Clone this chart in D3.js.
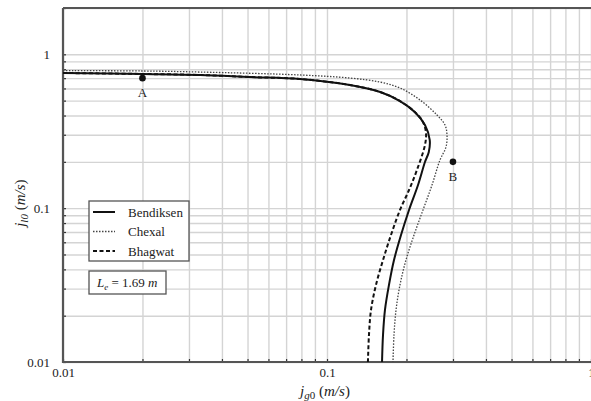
<!DOCTYPE html>
<html>
<head>
<meta charset="utf-8">
<script src="https://cdn.jsdelivr.net/npm/d3@7"></script>
<style>
  body { margin: 0; background: #fff; }
  text { font-family: "Liberation Serif", "Times New Roman", serif; fill: #222; }
</style>
</head>
<body>
<div class="chart"></div>
<script>
// flooding curves, log-log
const seriesNames = ["Bendiksen", "Chexal", "Bhagwat"];
const bendiksenJg = [0.01, 0.0201, 0.033, 0.051, 0.079, 0.122, 0.159, 0.189, 0.215, 0.235, 0.245, 0.243, 0.235, 0.2212, 0.2045, 0.1907, 0.1794, 0.1717, 0.1658, 0.163, 0.1616];
const bendiksenJl = [0.756, 0.745, 0.734, 0.712, 0.691, 0.632, 0.569, 0.497, 0.422, 0.347, 0.277, 0.232, 0.1995, 0.1414, 0.0973, 0.0669, 0.046, 0.0317, 0.0218, 0.015, 0.01];
const chexalJg = [0.01, 0.0201, 0.033, 0.079, 0.122, 0.159, 0.189, 0.2251, 0.261, 0.2799, 0.2848, 0.2823, 0.2679, 0.2499, 0.231, 0.2136, 0.1991, 0.189, 0.1826, 0.1794, 0.1778];
const chexalJl = [0.784, 0.779, 0.767, 0.734, 0.701, 0.66, 0.604, 0.505, 0.403, 0.347, 0.299, 0.2497, 0.2056, 0.1414, 0.0973, 0.0669, 0.046, 0.0317, 0.0218, 0.015, 0.01];
const bhagwatJg = [0.01, 0.0201, 0.033, 0.051, 0.079, 0.122, 0.159, 0.189, 0.215, 0.231, 0.2371, 0.235, 0.2191, 0.2045, 0.189, 0.1747, 0.163, 0.1533, 0.1468, 0.1442, 0.1429];
const bhagwatJl = [0.756, 0.745, 0.734, 0.712, 0.691, 0.632, 0.569, 0.497, 0.422, 0.363, 0.308, 0.2573, 0.177, 0.1312, 0.0973, 0.0669, 0.046, 0.0317, 0.0218, 0.015, 0.01];
const pointNames = ["A", "B"];
const pointJg = [0.02, 0.3];
const pointJl = [0.7, 0.2];
const xTickLabels = [0.01, 0.1, 1];
const yTickLabels = [0.01, 0.1, 1];

const W = 591, H = 401;
const plotL = 63, plotR = 591, plotT = 8, plotB = 362;

const svg = d3.select(".chart").append("svg")
    .attr("width", W).attr("height", H);

const x = d3.scaleLog().domain([0.01, 1]).range([plotL, plotR]);
const y = d3.scaleLog().domain([0.01, 2]).range([plotB, plotT]);

// every 1..9 value in each decade, for grid and minor ticks
const xGrid = [];
[0.01, 0.1].forEach(d => { for (let k = 1; k <= 9; k++) xGrid.push(+(d * k).toFixed(3)); });
xGrid.push(1);
const yGrid = [];
[0.01, 0.1].forEach(d => { for (let k = 1; k <= 9; k++) yGrid.push(+(d * k).toFixed(3)); });
yGrid.push(1, 2);

// grid
svg.append("g")
    .attr("transform", `translate(0,${plotB})`)
    .call(d3.axisBottom(x).tickValues(xGrid).tickSize(-(plotB - plotT)).tickFormat(""))
    .call(g => g.select(".domain").remove())
    .call(g => g.selectAll("line").attr("stroke", "#d4d4d4").attr("stroke-width", 1.4));
svg.append("g")
    .attr("transform", `translate(${plotL},0)`)
    .call(d3.axisLeft(y).tickValues(yGrid).tickSize(-(plotR - plotL)).tickFormat(""))
    .call(g => g.select(".domain").remove())
    .call(g => g.selectAll("line").attr("stroke", "#d4d4d4").attr("stroke-width", 1.4));

// inner minor ticks
svg.append("g")
    .attr("transform", `translate(0,${plotB})`)
    .call(d3.axisBottom(x).tickValues(xGrid).tickSize(-3).tickFormat(""))
    .call(g => g.select(".domain").remove())
    .call(g => g.selectAll("line").attr("stroke", "#333").attr("stroke-width", 1.2));
svg.append("g")
    .attr("transform", `translate(${plotL},0)`)
    .call(d3.axisLeft(y).tickValues(yGrid).tickSize(-3).tickFormat(""))
    .call(g => g.select(".domain").remove())
    .call(g => g.selectAll("line").attr("stroke", "#333").attr("stroke-width", 1.2));

// frame
svg.append("path")
    .attr("d", `M${plotL},${plotT}H${plotR + 2}M${plotL},${plotT}V${plotB}H${plotR + 2}`)
    .attr("fill", "none").attr("stroke", "#555").attr("stroke-width", 2.2);

// tick labels
svg.append("g")
    .attr("transform", `translate(0,${plotB})`)
    .call(d3.axisBottom(x).tickValues(xTickLabels).tickSize(0).tickPadding(6).tickFormat(d3.format("~g")))
    .call(g => g.select(".domain").remove())
    .call(g => g.selectAll("text").style("font-size", "13px").style("font-family", "Liberation Serif"));
svg.append("g")
    .attr("transform", `translate(${plotL},0)`)
    .call(d3.axisLeft(y).tickValues(yTickLabels).tickSize(0).tickPadding(13).tickFormat(d3.format("~g")))
    .call(g => g.select(".domain").remove())
    .call(g => g.selectAll("text").style("font-size", "13px").style("font-family", "Liberation Serif"));

// axis titles
const xt = svg.append("text").attr("x", x(0.1) - 2).attr("y", 396)
    .attr("text-anchor", "middle").style("font-size", "15px");
xt.append("tspan").text("j").style("font-style", "italic");
xt.append("tspan").text("g").attr("dy", 3).style("font-size", "11px").style("font-style", "italic");
xt.append("tspan").text("0").style("font-size", "11px");
xt.append("tspan").text(" (").attr("dy", -3);
xt.append("tspan").text("m/s").style("font-style", "italic");
xt.append("tspan").text(")");

const yt = svg.append("text")
    .attr("transform", `translate(25,${y(0.1) - 5}) rotate(-90)`)
    .attr("text-anchor", "middle").style("font-size", "15px");
yt.append("tspan").text("j").style("font-style", "italic");
yt.append("tspan").text("l0").attr("dy", 3).style("font-size", "11px").style("font-style", "italic");
yt.append("tspan").text(" (").attr("dy", -3);
yt.append("tspan").text("m/s").style("font-style", "italic");
yt.append("tspan").text(")");

// curves
const styles = [
    { stroke: "#111", width: 2, dash: null },
    { stroke: "#444", width: 1.3, dash: "1.5,1.5" },
    { stroke: "#111", width: 2, dash: "4,2.5" }
];
const seriesData = [
    bendiksenJg.map((v, i) => [v, bendiksenJl[i]]),
    chexalJg.map((v, i) => [v, chexalJl[i]]),
    bhagwatJg.map((v, i) => [v, bhagwatJl[i]])
];
const line = d3.line().x(d => x(d[0])).y(d => y(d[1])).curve(d3.curveCatmullRom.alpha(0.5));
svg.selectAll("path.curve")
    .data(seriesData)
    .join("path")
        .attr("class", "curve")
        .attr("d", line)
        .attr("fill", "none")
        .attr("stroke", (d, i) => styles[i].stroke)
        .attr("stroke-width", (d, i) => styles[i].width)
        .attr("stroke-dasharray", (d, i) => styles[i].dash);

// points A, B
const pts = pointNames.map((n, i) => ({ n, jg: pointJg[i], jl: pointJl[i] }));
svg.selectAll("circle.pt")
    .data(pts)
    .join("circle")
        .attr("class", "pt")
        .attr("cx", d => x(d.jg)).attr("cy", d => y(d.jl)).attr("r", 3.3)
        .attr("fill", "#111");
svg.selectAll("text.pt")
    .data(pts)
    .join("text")
        .attr("class", "pt")
        .attr("x", d => x(d.jg)).attr("y", d => y(d.jl) + 19)
        .attr("text-anchor", "middle")
        .style("font-size", "13px")
        .text(d => d.n);

// legend
const lg = svg.append("g").attr("transform", "translate(89,201)");
lg.append("rect").attr("width", 100).attr("height", 60)
    .attr("fill", "#fff").attr("stroke", "#555").attr("stroke-width", 1.3);
seriesNames.forEach((name, i) => {
    const yy = 11 + i * 19.5;
    lg.append("line").attr("x1", 4).attr("x2", 26).attr("y1", yy).attr("y2", yy)
        .attr("stroke", styles[i].stroke).attr("stroke-width", styles[i].width)
        .attr("stroke-dasharray", styles[i].dash);
    lg.append("text").attr("x", 39).attr("y", yy + 4.5)
        .style("font-size", "13px").text(name);
});

const lb = svg.append("g").attr("transform", "translate(89,271)");
lb.append("rect").attr("width", 77).attr("height", 23)
    .attr("fill", "#fff").attr("stroke", "#555").attr("stroke-width", 1.3);
const lt = lb.append("text").attr("x", 8).attr("y", 16).style("font-size", "13px");
lt.append("tspan").text("L").style("font-style", "italic");
lt.append("tspan").text("e").attr("dy", 3).style("font-size", "9px").style("font-style", "italic");
lt.append("tspan").text(" = 1.69 ").attr("dy", -3);
lt.append("tspan").text("m").style("font-style", "italic");
</script>
</body>
</html>
